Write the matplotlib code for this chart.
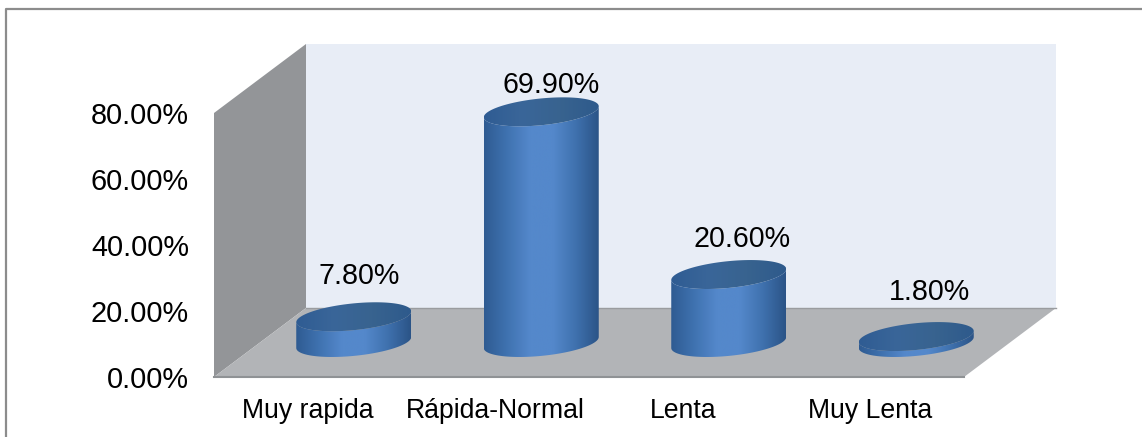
import numpy as np
import matplotlib.pyplot as plt
from matplotlib.colors import LinearSegmentedColormap
from matplotlib.patches import Polygon, PathPatch
from matplotlib.path import Path

categories = ['Muy rapida', 'Rápida-Normal', 'Lenta', 'Muy Lenta']
values = [7.8, 69.9, 20.6, 1.8]
value_labels = ['7.80%', '69.90%', '20.60%', '1.80%']
y_ticks = [0, 20, 40, 60, 80]
y_labels = ['0.00%', '20.00%', '40.00%', '60.00%', '80.00%']

plt.rcParams['font.family'] = ['Liberation Sans', 'DejaVu Sans']

W, H = 1142, 437
fig = plt.figure(figsize=(W / 100, H / 100), dpi=100, facecolor='white')
ax = fig.add_axes([214 / W, (H - 377) / H, 750 / W, 264 / H])
ax.patch.set_visible(False)
for s in ax.spines.values():
    s.set_visible(False)

# depth of the fake 3d box, in data units
dx = 92 / 187.5
dy = 69 / 3.3
x0, x1 = -0.5, 3.5
top = 80


def box(pts, color, z):
    p = Polygon(pts, closed=True, facecolor=color, edgecolor='none', zorder=z, clip_on=False)
    ax.add_patch(p)


box([(x0 + dx, 0 + dy), (x1 + dx, 0 + dy), (x1 + dx, top + dy), (x0 + dx, top + dy)], '#e8edf6', 1)
box([(x0, 0), (x0 + dx, dy), (x0 + dx, top + dy), (x0, top)], '#939598', 2)
box([(x0, 0), (x1, 0), (x1 + dx, dy), (x0 + dx, dy)], '#b2b4b7', 2)
ax.plot([x0, x1], [0, 0], color='#8f9295', lw=1.5, zorder=3, clip_on=False)
ax.plot([x0 + dx, x1 + dx], [dy, dy], color='#9a9c9f', lw=1, zorder=3, clip_on=False)

# cylinder shape
half_w = 57.5 / 187.5
half_h = 13.4 / 3.3
tilt = 5.5 / 3.3
side_cmap = LinearSegmentedColormap.from_list('side', ['#2f5b92', '#3f72b0', '#5488cb', '#5488cb', '#3f71ae', '#2b5487'])
top_cmap = LinearSegmentedColormap.from_list('top', ['#2f5c93', '#3a6699', '#38638f', '#2e5a8c'])
grad = np.linspace(0, 1, 256).reshape(1, -1)
t = np.linspace(0, 2 * np.pi, 121)

label_dx = [5, 10, 13, 13]
label_dy = [41, 27, 36, 45]
tf = ax.transData

for i, v in enumerate(values):
    cx = i + dx / 2
    y0 = dy / 2
    y1 = y0 + v

    # lower half of base ellipse, upper half closed through the top ellipse
    tl = np.linspace(np.pi, 2 * np.pi, 61)
    xb = cx + half_w * np.cos(tl)
    yb = y0 + tilt * np.cos(tl) + half_h * np.sin(tl)
    xt = cx + half_w * np.cos(t)
    yt = y1 + tilt * np.cos(t) + half_h * np.sin(t)
    outline = np.vstack([np.column_stack([xb, yb]),
                         np.column_stack([cx + half_w * np.cos(tl[::-1]),
                                          y1 + tilt * np.cos(tl[::-1]) + half_h * np.sin(tl[::-1])])])
    extent = [cx - half_w, cx + half_w, y0 - half_h - tilt, y1 + half_h + tilt]

    im = ax.imshow(grad, cmap=side_cmap, extent=extent, aspect='auto', zorder=4, origin='lower')
    im.set_clip_path(PathPatch(Path(outline), transform=tf))
    im.set_clip_box(fig.bbox)

    im2 = ax.imshow(grad, cmap=top_cmap, extent=extent, aspect='auto', zorder=5, origin='lower')
    im2.set_clip_path(PathPatch(Path(np.column_stack([xt, yt])), transform=tf))
    im2.set_clip_box(fig.bbox)

    ax.text(cx + label_dx[i] / 187.5, y1 + label_dy[i] / 3.3, value_labels[i], ha='center', va='center',
            fontsize=20.6, color='black', zorder=6)

ax.set_xlim(x0, x1)
ax.set_ylim(0, top)

ax.set_yticks(y_ticks)
ax.set_yticklabels(y_labels, fontsize=20.8, color='black')
ax.set_xticks(range(len(categories)))
ax.set_xticklabels(categories, fontsize=19.2, color='black')
ax.tick_params(axis='both', length=0)
ax.tick_params(axis='y', pad=18)
ax.tick_params(axis='x', pad=15)

# outer chart frame, only left and top show in the source image
frame_x = [6 / W, 6 / W, 1]
frame_y = [0, 1 - 9 / H, 1 - 9 / H]
fig.add_artist(plt.Line2D(frame_x, frame_y, color='#8c8c8c', lw=1.6, transform=fig.transFigure))

fig.savefig('out.png', dpi=100)
